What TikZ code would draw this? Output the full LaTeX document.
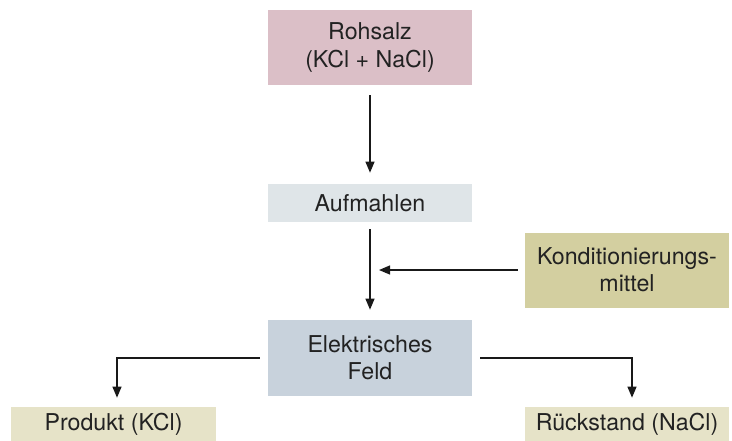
\documentclass[tikz,border=0pt]{standalone}
\usepackage{fontspec}
\setmainfont{TeX Gyre Heros}
\usetikzlibrary{arrows.meta}

\definecolor{rohcol}{RGB}{219,191,199}
\definecolor{mahlcol}{RGB}{223,229,232}
\definecolor{feldcol}{RGB}{200,210,220}
\definecolor{kondcol}{RGB}{211,207,160}
\definecolor{endcol}{RGB}{230,227,200}
\definecolor{txtcol}{RGB}{34,34,34}

\begin{document}
\begin{tikzpicture}[x=0.02cm,y=-0.02cm,
		box/.style={inner sep=0pt, minimum width=4.08cm, align=center, text=txtcol,
			font=\fontsize{13.2}{15.6}\selectfont},
		flow/.style={draw=black!90, line width=0.65pt, -{Triangle[length=0.22cm,width=0.18cm]}}]
		\useasboundingbox (0,0) rectangle (732,440);
		\node [box, fill=rohcol, minimum height=1.5cm] (rohsalz) at (370,47.5) {Rohsalz\\(KCl + NaCl)};
		\node [box, fill=mahlcol, minimum height=0.76cm] (aufmahlen) at (370,203) {Aufmahlen};
		\node [box, fill=feldcol, minimum height=1.52cm] (feld) at (370,358) {Elektrisches\\Feld};
		\node [box, fill=kondcol, minimum height=1.5cm] (kond) at (627,270) {Konditionierungs-\\mittel};
		\node [box, fill=endcol, minimum height=0.68cm, minimum width=4.1cm] (produkt) at (113.5,424) {Produkt (KCl)};
		\node [box, fill=endcol, minimum height=0.68cm, minimum width=4.1cm] (rueckstand) at (627,424) {Rückstand (NaCl)};
		\coordinate (einlauf) at (370,270);
		% Hauptstrang
		\draw [flow, shorten <=0.2cm, shorten >=0.22cm] (rohsalz) -- (aufmahlen);
		\draw [flow, shorten <=0.14cm, shorten >=0.2cm] (aufmahlen) -- (feld);
		\draw [flow, shorten <=0.14cm, shorten >=0.18cm] (kond.west) -- (einlauf);
		% Trennung
		\draw [flow, shorten <=0.16cm, shorten >=0.18cm] (feld.west) -| ([xshift=0.07cm]produkt.north);
		\draw [flow, shorten <=0.16cm, shorten >=0.18cm] (feld.east) -| ([xshift=0.1cm]rueckstand.north);
\end{tikzpicture}
\end{document}
